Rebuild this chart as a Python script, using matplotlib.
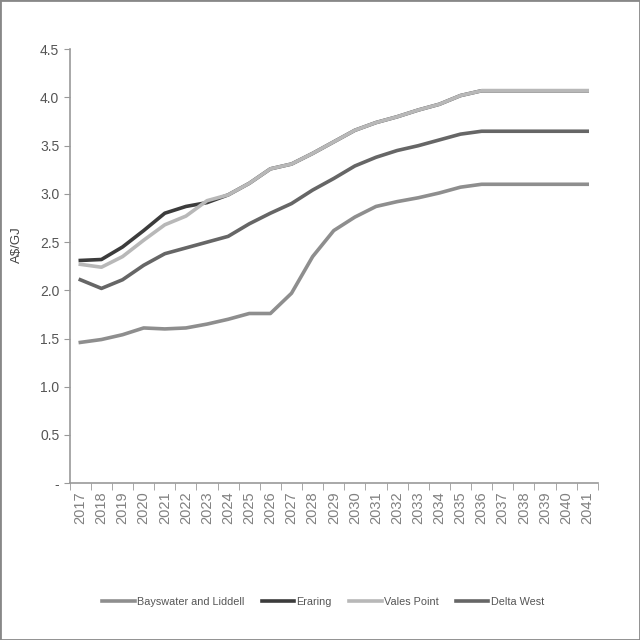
import matplotlib
matplotlib.use("Agg")
import matplotlib.pyplot as plt
import numpy as np
from matplotlib.patches import Rectangle

years = [str(y) for y in range(2017, 2042)]

bayswater = [1.46, 1.49, 1.54, 1.61, 1.60, 1.61, 1.65, 1.70, 1.76, 1.76, 1.97, 2.35, 2.62, 2.76,
             2.87, 2.92, 2.96, 3.01, 3.07, 3.10, 3.10, 3.10, 3.10, 3.10, 3.10]
eraring = [2.31, 2.32, 2.45, 2.62, 2.80, 2.87, 2.91, 2.99, 3.11, 3.26, 3.31, 3.42, 3.54, 3.66,
           3.74, 3.80, 3.87, 3.93, 4.02, 4.07, 4.07, 4.07, 4.07, 4.07, 4.07]
vales_point = [2.27, 2.24, 2.35, 2.52, 2.68, 2.77, 2.93, 2.99, 3.11, 3.26, 3.31, 3.42, 3.54, 3.66,
               3.74, 3.80, 3.87, 3.93, 4.02, 4.07, 4.07, 4.07, 4.07, 4.07, 4.07]
delta_west = [2.11, 2.02, 2.11, 2.26, 2.38, 2.44, 2.50, 2.56, 2.69, 2.80, 2.90, 3.04, 3.16, 3.29,
              3.38, 3.45, 3.50, 3.56, 3.62, 3.65, 3.65, 3.65, 3.65, 3.65, 3.65]

series_names = ["Bayswater and Liddell", "Eraring", "Vales Point", "Delta West"]
series_vals = [bayswater, eraring, vales_point, delta_west]
colors = ["#8e8e8e", "#3c3c3c", "#b8b8b8", "#666666"]

y_ticks = [0, 0.5, 1.0, 1.5, 2.0, 2.5, 3.0, 3.5, 4.0, 4.5]
y_ticklabels = ["-", "0.5", "1.0", "1.5", "2.0", "2.5", "3.0", "3.5", "4.0", "4.5"]

plt.rcParams['font.family'] = ['Liberation Sans', 'DejaVu Sans']

fig = plt.figure(figsize=(6.4, 6.4), dpi=100)
ax = fig.add_axes([0.109, 0.245, 0.825, 0.678])

x = np.arange(len(years))
for name, vals, c in zip(series_names, series_vals, colors):
    ax.plot(x, vals, color=c, lw=2.6, label=name, solid_joinstyle='round')

ax.set_xlim(-0.5, len(years) - 0.5)
ax.set_ylim(0, 4.5)
ax.set_yticks(y_ticks)
ax.set_yticklabels(y_ticklabels, fontsize=10, color="#555555")
ax.set_xticks(x)
ax.set_xticklabels(years, rotation=90, fontsize=10.5, color="#808080")
ax.tick_params(axis='x', which='major', length=0, pad=6)
ax.set_xticks(np.arange(-0.5, len(years), 1.0), minor=True)
ax.tick_params(axis='x', which='minor', length=5, color="#999999", direction='out')
ax.tick_params(axis='y', length=4, color="#999999", direction='out')

for s in ['top', 'right']:
    ax.spines[s].set_visible(False)
for s in ['left', 'bottom']:
    ax.spines[s].set_color("#999999")
    ax.spines[s].set_linewidth(1.2)

fig.text(0.027, 0.617, "A$/GJ", rotation=90, ha='center', va='center', fontsize=9.5, color="#444444")

leg = ax.legend(loc='center', bbox_to_anchor=(0.505, 0.06), bbox_transform=fig.transFigure,
                ncol=4, frameon=False, fontsize=7.8, handlelength=3.0, columnspacing=1.6,
                handletextpad=0.2, labelcolor="#555555")

fig.patches.append(Rectangle((0, 0), 1, 1, transform=fig.transFigure, fill=False,
                             edgecolor="#888888", lw=2))

fig.savefig("out.png", dpi=100)
